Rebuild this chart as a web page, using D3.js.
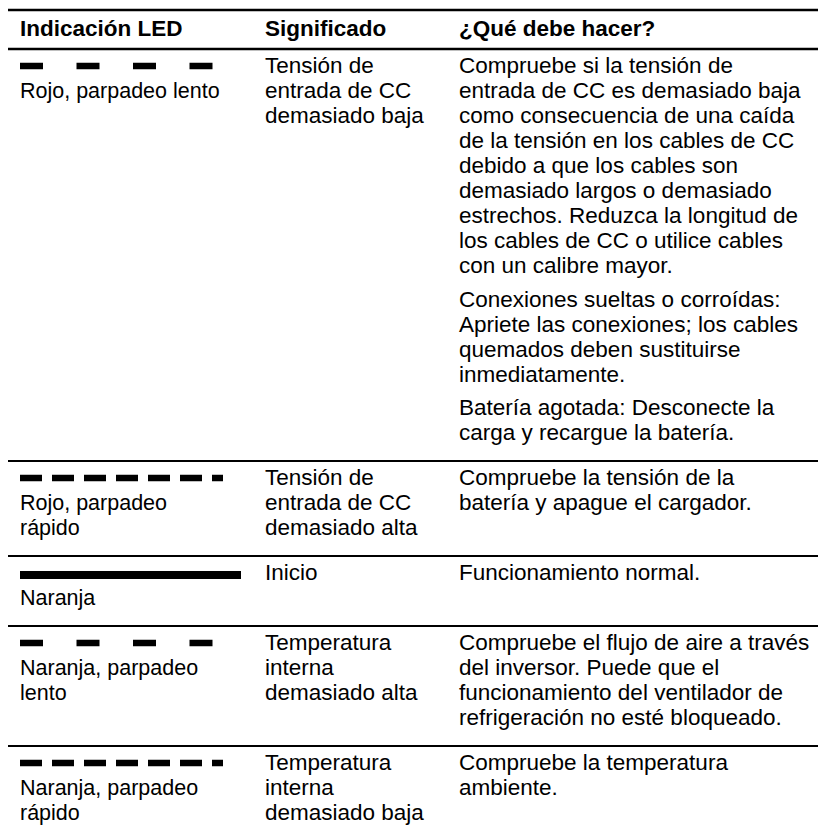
<!DOCTYPE html>
<html>
<head>
<meta charset="utf-8">
<script src="https://cdn.jsdelivr.net/npm/d3@7"></script>
<style>
  html, body { margin: 0; padding: 0; background: #fff; }
  svg text { font-family: "Liberation Sans", Arial, sans-serif; fill: #000; }
</style>
</head>
<body>
<svg id="chart" width="818" height="833"></svg>
<script>
// ---- data ----
const headers = ["Indicación LED", "Significado", "¿Qué debe hacer?"];
const ledPatterns = ["slow", "fast", "solid", "slow", "fast"];
const ledLabels = [
  ["Rojo, parpadeo lento"],
  ["Rojo, parpadeo", "rápido"],
  ["Naranja"],
  ["Naranja, parpadeo", "lento"],
  ["Naranja, parpadeo", "rápido"]
];
const meanings = [
  ["Tensión de", "entrada de CC", "demasiado baja"],
  ["Tensión de", "entrada de CC", "demasiado alta"],
  ["Inicio"],
  ["Temperatura", "interna", "demasiado alta"],
  ["Temperatura", "interna", "demasiado baja"]
];
const actions = [
  [
    ["Compruebe si la tensión de", "entrada de CC es demasiado baja", "como consecuencia de una caída",
     "de la tensión en los cables de CC", "debido a que los cables son", "demasiado largos o demasiado",
     "estrechos. Reduzca la longitud de", "los cables de CC o utilice cables", "con un calibre mayor."],
    ["Conexiones sueltas o corroídas:", "Apriete las conexiones; los cables", "quemados deben sustituirse",
     "inmediatamente."],
    ["Batería agotada: Desconecte la", "carga y recargue la batería."]
  ],
  [["Compruebe la tensión de la", "batería y apague el cargador."]],
  [["Funcionamiento normal."]],
  [["Compruebe el flujo de aire a través", "del inversor. Puede que el",
    "funcionamiento del ventilador de", "refrigeración no esté bloqueado."]],
  [["Compruebe la temperatura", "ambiente."]]
];
// LED pattern styles (dash, gap) and bar lengths
const patternDash = { slow: [23, 33.5], fast: [22, 10], solid: null };
const patternLength = { slow: 192.5, fast: 203, solid: 221 };

// ---- layout ----
const W = 818, H = 833;
const fontSize = 22.5, labelSize = 21.5;
const L = 25, firstOff = 24, bottomPad = 21, paraGap = 8.5;
const colX = d3.scaleOrdinal().domain([0, 1, 2]).range([20, 265, 459]);
const lineX0 = 8, lineX1 = 818;
const topLineY = 10, headerBase = 36, headerLineY = 49;

const svg = d3.select("#chart");

// compute rows
const rows = ledPatterns.map((p, i) => {
  const c1 = 1 + ledLabels[i].length;
  const c2 = meanings[i].length;
  const c3 = d3.sum(actions[i], a => a.length);
  const gaps = actions[i].length - 1;
  const h3 = (c3 - 1) * L + gaps * paraGap;
  const h = Math.max((c1 - 1) * L, (c2 - 1) * L, h3);
  return { i, pattern: p, h: firstOff + h + bottomPad };
});
let yAcc = headerLineY;
rows.forEach(r => { r.top = yAcc; yAcc += r.h; });

// rules
const ruleYs = [topLineY, headerLineY].concat(rows.slice(1).map(r => r.top));
svg.selectAll("line.rule").data(ruleYs).join("line")
  .attr("class", "rule")
  .attr("x1", lineX0).attr("x2", lineX1)
  .attr("y1", d => d).attr("y2", d => d)
  .attr("stroke", "#000").attr("stroke-width", (d, i) => i < 2 ? 2.5 : 2);

// header
svg.selectAll("text.hdr").data(headers).join("text")
  .attr("class", "hdr")
  .attr("x", (d, i) => colX(i)).attr("y", headerBase)
  .attr("font-size", fontSize).attr("font-weight", "bold")
  .text(d => d);

// rows
const g = svg.selectAll("g.row").data(rows).join("g").attr("class", "row")
  .attr("transform", d => `translate(0,${d.top})`);

g.each(function(r) {
  const sel = d3.select(this);
  const b = firstOff;
  if (r.pattern === "solid") {
    sel.append("line")
      .attr("x1", colX(0)).attr("x2", colX(0) + patternLength.solid)
      .attr("y1", b - 5).attr("y2", b - 5)
      .attr("stroke", "#000").attr("stroke-width", 8);
  } else {
    sel.append("line")
      .attr("x1", colX(0)).attr("x2", colX(0) + patternLength[r.pattern])
      .attr("y1", b - 7).attr("y2", b - 7)
      .attr("stroke", "#000").attr("stroke-width", 6.5)
      .attr("stroke-dasharray", patternDash[r.pattern].join(","));
  }
  // label lines (start at line 2)
  sel.selectAll("text.lbl").data(ledLabels[r.i]).join("text")
    .attr("class", "lbl")
    .attr("x", colX(0)).attr("y", (d, k) => b + (k + 1) * L)
    .attr("font-size", labelSize).text(d => d);
  // meaning
  sel.selectAll("text.mean").data(meanings[r.i]).join("text")
    .attr("class", "mean")
    .attr("x", colX(1)).attr("y", (d, k) => b + k * L)
    .attr("font-size", fontSize).text(d => d);
  // actions
  let y = b;
  actions[r.i].forEach((para, pi) => {
    if (pi > 0) y += paraGap;
    para.forEach(line => {
      sel.append("text").attr("class", "act")
        .attr("x", colX(2)).attr("y", y)
        .attr("font-size", fontSize).text(line);
      y += L;
    });
  });
});
</script>
</body>
</html>
